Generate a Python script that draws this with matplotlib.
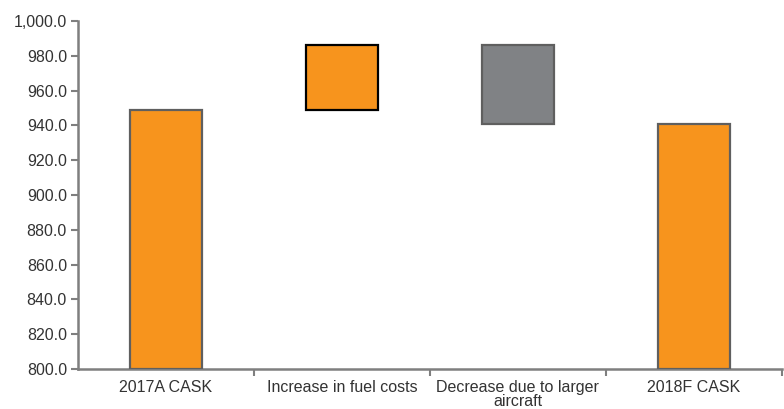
import numpy as np
import matplotlib
matplotlib.use('Agg')
import matplotlib.pyplot as plt
from matplotlib.ticker import FuncFormatter, FixedLocator

###########################################################################################
## data: CASK bridge 2017A -> 2018F
categories = ['2017A CASK', 'Increase in fuel costs', 'Decrease due to larger\naircraft', '2018F CASK']
start_value = 949.0
changes = [37.0, -45.0]          # fuel, larger aircraft
end_value = 941.0

bar_colors = ['#F7941D', '#F7941D', '#808285', '#F7941D']
edge_colors = ['#5f5f5f', '#000000', '#5f5f5f', '#5f5f5f']

###########################################################################################
# waterfall bottoms / heights
bottoms = [800.0]
heights = [start_value - 800.0]
level = start_value
for c in changes:
    if c >= 0:
        bottoms.append(level)
        heights.append(c)
    else:
        bottoms.append(level + c)
        heights.append(-c)
    level += c
bottoms.append(800.0)
heights.append(end_value - 800.0)

plt.rcParams['font.family'] = ['Liberation Sans', 'DejaVu Sans']

fig = plt.figure(figsize=(7.84, 4.09), dpi=100)
ax = fig.add_axes([0.0995, 0.0978, 0.8975, 0.851])

x = np.arange(len(categories))
ax.bar(x, heights, bottom=bottoms, width=0.41, color=bar_colors,
       edgecolor=edge_colors, linewidth=1.6, zorder=3)

ax.set_xlim(-0.5, len(categories) - 0.5)
ax.set_ylim(800, 1000)
ax.set_yticks(np.arange(800, 1001, 20))
ax.yaxis.set_major_formatter(FuncFormatter(lambda v, p: f'{v:,.1f}'))

ax.set_xticks(x)
ax.set_xticklabels(categories, fontsize=11.5, color='#333333', linespacing=0.92)
ax.xaxis.set_minor_locator(FixedLocator(list(x + 0.5)))
ax.tick_params(axis='x', which='major', length=0, pad=8)
ax.tick_params(axis='x', which='minor', length=5, width=1.5, color='#7f7f7f', direction='out')
ax.tick_params(axis='y', length=5, width=1.5, color='#7f7f7f', direction='out',
               labelsize=11.5, labelcolor='#333333', pad=3)

for side in ['top', 'right']:
    ax.spines[side].set_visible(False)
for side in ['left', 'bottom']:
    ax.spines[side].set_color('#7f7f7f')
    ax.spines[side].set_linewidth(1.8)

fig.savefig('out.png', dpi=100)
